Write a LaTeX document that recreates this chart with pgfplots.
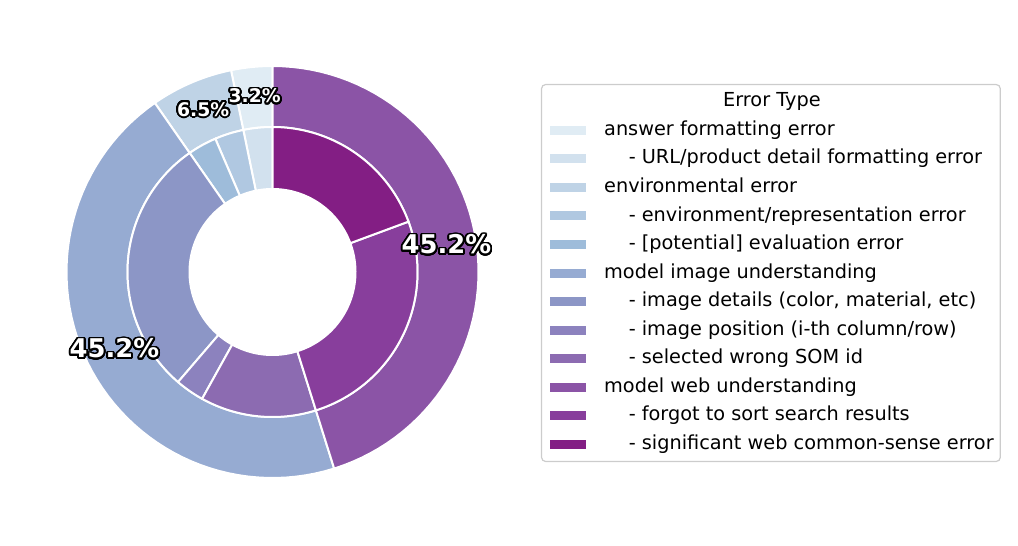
\documentclass[border=0pt]{standalone}
\usepackage{pgfplots}
\pgfplotsset{compat=1.18}
\usepackage{fontspec}
\setmainfont{DejaVu Sans}
\usepackage{contour}
\contourlength{0.9pt}
\contournumber{32}

% BuPu-like shades, lightest to darkest
\definecolor{c1}{RGB}{224,236,244}
\definecolor{c2}{RGB}{210,225,238}
\definecolor{c3}{RGB}{191,211,230}
\definecolor{c4}{RGB}{176,200,225}
\definecolor{c5}{RGB}{158,188,218}
\definecolor{c6}{RGB}{150,171,210}
\definecolor{c7}{RGB}{140,150,198}
\definecolor{c8}{RGB}{140,130,190}
\definecolor{c9}{RGB}{140,107,177}
\definecolor{c10}{RGB}{139,84,166}
\definecolor{c11}{RGB}{136,62,156}
\definecolor{c12}{RGB}{131,30,132}

% one ring piece: outer radius, inner radius, start count, end count (of 31), colour, legend text
\newcommand{\ringpiece}[6]{%
  \pgfmathsetmacro\aA{90+360*#3/31}%
  \pgfmathsetmacro\aB{90+360*#4/31}%
  \edef\temp{\noexpand\addplot[fill=#5, draw=white, line width=1pt, domain=0:121, samples=122]
    ({(x<60.5 ? #1 : #2)*cos(x<60.5 ? \aA+(\aB-\aA)*x/60 : \aB-(\aB-\aA)*(x-61)/60)},
     {(x<60.5 ? #1 : #2)*sin(x<60.5 ? \aA+(\aB-\aA)*x/60 : \aB-(\aB-\aA)*(x-61)/60)}) -- cycle;}%
  \temp
  \addlegendentry{#6}}

% percentage label in the middle of an outer piece: start, end, font size, text
\newcommand{\pctlabel}[4]{%
  \pgfmathsetmacro\aM{90+180*(#1+#2)/31}%
  \pgfmathsetmacro\lx{176*cos(\aM)}%
  \pgfmathsetmacro\ly{176*sin(\aM)}%
  \edef\temp{\noexpand\node[font=\noexpand\fontsize{#3}{14}\noexpand\selectfont\noexpand\bfseries, inner sep=0pt]
    at (axis cs:\lx,\ly)}%
  \temp {\contour{black}{\textcolor{white}{#4}}};}

\newcommand{\sub}{\hspace*{12.3pt}}

\begin{document}
\begin{tikzpicture}
\begin{axis}[
    hide axis,
    scale only axis,
    width=509pt, height=273pt,
    xmin=-272.5, xmax=745.5,
    ymin=-274, ymax=272,
    clip=false,
    legend image code/.code={%
        \path[#1, sharp corners] (0pt,-2.75pt) rectangle (19pt,2.75pt);
        \path (27pt,0pt);},
    legend cell align=left,
    legend style={
        at={(0.5314,0.8462)}, anchor=north west,
        draw=black!20, line width=0.6pt, rounded corners=2pt,
        font=\fontsize{9.65}{11}\selectfont,
        inner xsep=3.3pt, inner ysep=3.85pt,
        row sep=4.77pt,
        nodes={inner sep=0pt, text height=7.3pt, text depth=2.2pt}
    },
]
\path (rel axis cs:0,0) (rel axis cs:1,1);

\addlegendimage{empty legend}
\addlegendentry{\hspace*{59.5pt}Error Type}

% outer ring R=206 r=145, inner ring R=145 r=83, counts out of 31 errors
\ringpiece{206}{145}{0}{1}{c1}{answer formatting error}
\ringpiece{145}{83}{0}{1}{c2}{\sub- URL/product detail formatting error}
\ringpiece{206}{145}{1}{3}{c3}{environmental error}
\ringpiece{145}{83}{1}{2}{c4}{\sub- environment/representation error}
\ringpiece{145}{83}{2}{3}{c5}{\sub- [potential] evaluation error}
\ringpiece{206}{145}{3}{17}{c6}{model image understanding}
\ringpiece{145}{83}{3}{12}{c7}{\sub- image details (color, material, etc)}
\ringpiece{145}{83}{12}{13}{c8}{\sub- image position (i-th column/row)}
\ringpiece{145}{83}{13}{17}{c9}{\sub- selected wrong SOM id}
\ringpiece{206}{145}{17}{31}{c10}{model web understanding}
\ringpiece{145}{83}{17}{25}{c11}{\sub- forgot to sort search results}
\ringpiece{145}{83}{25}{31}{c12}{\sub- significant web common-sense error}

\pctlabel{1}{3}{9.4}{6.5\%}
\pctlabel{0}{1}{9.4}{3.2\%}
\pctlabel{3}{17}{12.9}{45.2\%}
\pctlabel{17}{31}{12.9}{45.2\%}
\end{axis}
\end{tikzpicture}
\end{document}
